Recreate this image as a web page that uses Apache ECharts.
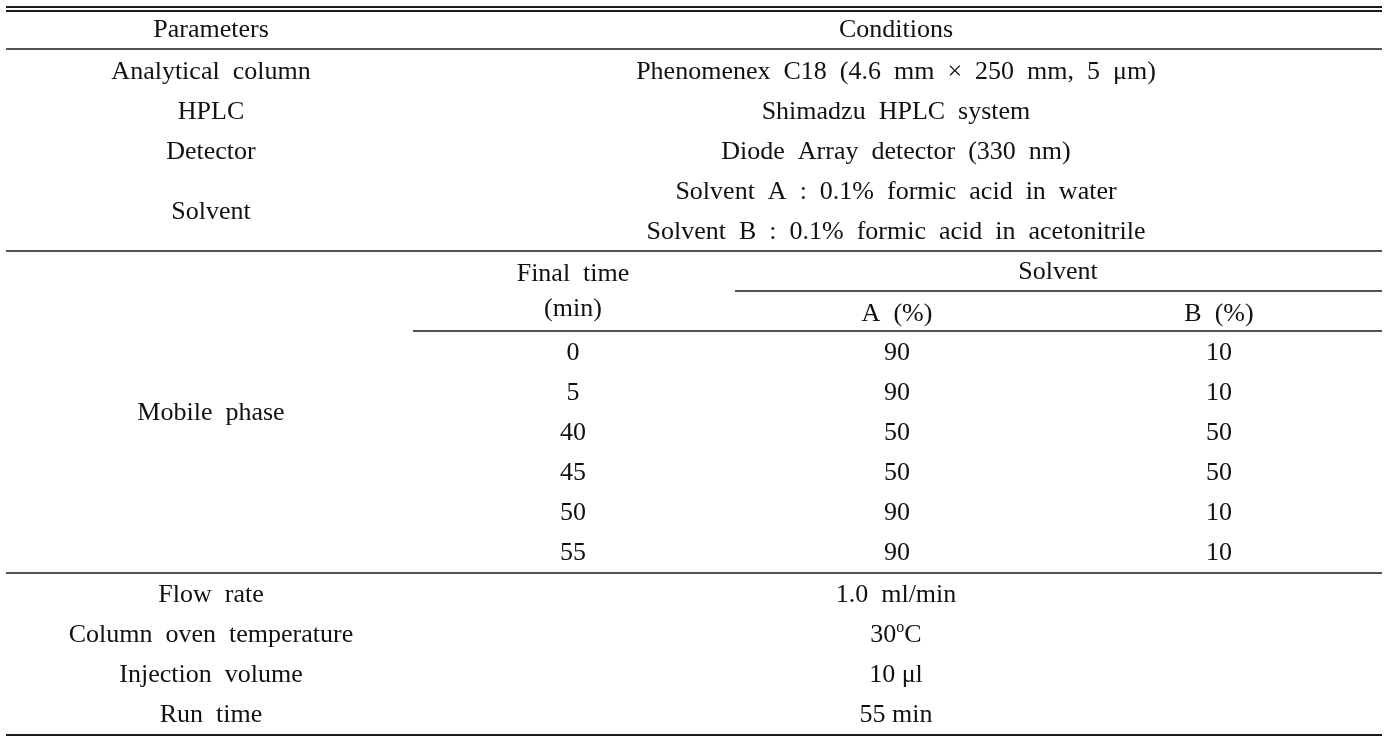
<!DOCTYPE html>
<html>
<head>
<meta charset="utf-8">
<script src="https://cdn.jsdelivr.net/npm/echarts@6/dist/echarts.min.js"></script>
<style>html,body{margin:0;padding:0;background:#fff;}#main{width:1400px;height:738px;}</style>
</head>
<body>
<div id="main"></div>
<script>
// ---- table content ----
const headers = ['Parameters', 'Conditions'];
const topParams = ['Analytical  column', 'HPLC', 'Detector', 'Solvent'];
const topConditions = [
  'Phenomenex  C18  (4.6  mm  \u00d7  250  mm,  5  \u03bcm)',
  'Shimadzu  HPLC  system',
  'Diode  Array  detector  (330  nm)',
  'Solvent  A  :  0.1%  formic  acid  in  water',
  'Solvent  B  :  0.1%  formic  acid  in  acetonitrile'
];
const mobileLabel = 'Mobile  phase';
const gradientHeaders = ['Final  time', '(min)', 'Solvent', 'A  (%)', 'B  (%)'];
const finalTimes = [0, 5, 40, 45, 50, 55];
const solventA = [90, 90, 50, 50, 90, 90];
const solventB = [10, 10, 50, 50, 10, 10];
const bottomParams = ['Flow  rate', 'Column  oven  temperature', 'Injection  volume', 'Run  time'];
const bottomConditions = ['1.0  ml/min', '30{sup|o}C', '10 \u03bcl', '55 min'];

// ---- layout ----
const W = 1400, H = 738;
const L = 6, R = 1382;
const colParam = 211, colCond = 896, colTime = 573, colA = 897, colB = 1219;
const subLeft = 413, solventLeft = 735;
const rowH = 40;
const dy = 2;
const yHeader = 28 + dy, yTop0 = 70 + dy, yGrad0 = 351 + dy, yBottom0 = 593 + dy;

const cells = [];
function cell(x, y, t) { cells.push([x, y, String(t)]); }
cell(colParam, yHeader, headers[0]);
cell(colCond, yHeader, headers[1]);
topParams.forEach((t, i) => cell(colParam, yTop0 + (i < 3 ? i : 3.5) * rowH, t));
topConditions.forEach((t, i) => cell(colCond, yTop0 + i * rowH, t));
cell(colTime, 272 + dy, gradientHeaders[0]);
cell(colTime, 307 + dy, gradientHeaders[1]);
cell(colA + 161, 270 + dy, gradientHeaders[2]);
cell(colA, 312 + dy, gradientHeaders[3]);
cell(colB, 312 + dy, gradientHeaders[4]);
cell(colParam, yGrad0 + 1.5 * rowH, mobileLabel);
finalTimes.forEach((v, i) => {
  cell(colTime, yGrad0 + i * rowH, v);
  cell(colA, yGrad0 + i * rowH, solventA[i]);
  cell(colB, yGrad0 + i * rowH, solventB[i]);
});
bottomParams.forEach((t, i) => cell(colParam, yBottom0 + i * rowH, t));
bottomConditions.forEach((t, i) => cell(colCond, yBottom0 + i * rowH, t));

const rules = [
  [L, R, 7, 2], [L, R, 11, 2], [L, R, 49, 1.5],
  [L, R, 251, 1.5], [solventLeft, R, 291, 1.5], [subLeft, R, 331, 1.5],
  [L, R, 573, 1.5], [L, R, 735, 2]
];

const chart = echarts.init(document.getElementById('main'), null, {renderer: 'canvas'});
const FONT = '"Liberation Serif", "Times New Roman", serif';
chart.setOption({
  backgroundColor: '#ffffff',
  animation: false,
  grid: {left: 0, right: 0, top: 0, bottom: 0},
  xAxis: {type: 'value', min: 0, max: W, show: false},
  yAxis: {type: 'value', min: 0, max: H, inverse: true, show: false},
  series: [
    {
      type: 'custom',
      coordinateSystem: 'cartesian2d',
      data: rules,
      silent: true,
      renderItem: function (params, api) {
        const p1 = api.coord([api.value(0), api.value(2)]);
        const p2 = api.coord([api.value(1), api.value(2)]);
        return {
          type: 'line',
          shape: {x1: p1[0], y1: p1[1], x2: p2[0], y2: p2[1]},
          style: {stroke: '#1a1a1a', lineWidth: api.value(3)}
        };
      }
    },
    {
      type: 'custom',
      coordinateSystem: 'cartesian2d',
      data: cells,
      silent: true,
      renderItem: function (params, api) {
        const c = cells[params.dataIndex];
        const p = api.coord([c[0], c[1]]);
        return {
          type: 'text',
          x: p[0], y: p[1],
          style: {
            text: c[2],
            x: 0, y: 0,
            align: 'center',
            verticalAlign: 'middle',
            font: '26px ' + FONT,
            fill: '#111111',
            rich: {
              sup: {font: '16px ' + FONT, fill: '#111111', verticalAlign: 'top', padding: [0, 0, 14, 0]}
            }
          }
        };
      }
    }
  ]
});
</script>
</body>
</html>
